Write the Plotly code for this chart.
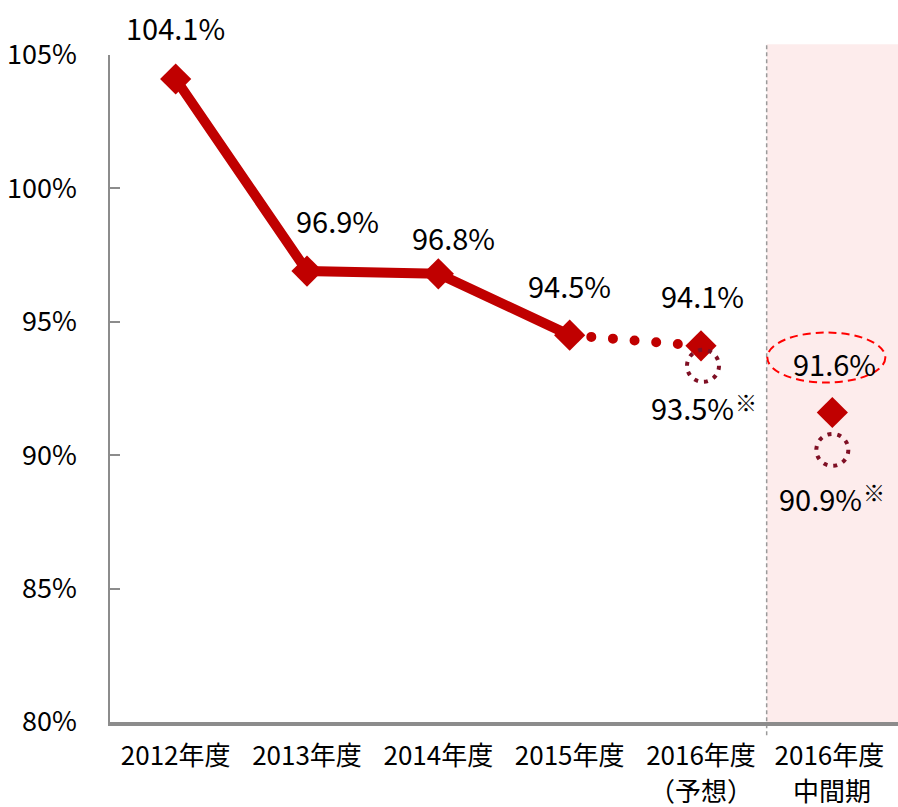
import plotly.graph_objects as go

# ---- data ----
categories = ["2012年度", "2013年度", "2014年度", "2015年度", "2016年度", "2016年度 "]
category_sublabels = ["", "", "", "", "（予想）", "中間期"]
actual_values = [104.1, 96.9, 96.8, 94.5]          # 2012-2015 results
forecast_values = [94.5, 94.1]                     # 2015 -> 2016 forecast
interim_values = [91.6]                            # 2016 interim
adjusted_labels = [93.5, 90.9]                     # ※ adjusted values (forecast, interim)
adjusted_marker_y = [93.35, 90.2]                  # where the dotted circles sit
y_ticks = [80, 85, 90, 95, 100, 105]

RED = "#C00000"
MAROON = "#7F0F24"
FONT = "Noto Sans CJK JP"

fig = go.Figure()

fig.add_trace(go.Scatter(
    x=categories[:4], y=actual_values, mode="lines+markers",
    line=dict(color=RED, width=10),
    marker=dict(symbol="diamond", size=24, color=RED),
    hoverinfo="skip", showlegend=False))

fig.add_trace(go.Scatter(
    x=categories[3:5], y=forecast_values, mode="lines",
    line=dict(color=RED, width=10, dash="0px,21.7px"),
    hoverinfo="skip", showlegend=False))
fig.add_trace(go.Scatter(
    x=categories[4:5], y=forecast_values[1:], mode="markers",
    marker=dict(symbol="diamond", size=24, color=RED),
    hoverinfo="skip", showlegend=False))

fig.add_trace(go.Scatter(
    x=categories[5:6], y=interim_values, mode="markers",
    marker=dict(symbol="diamond", size=24, color=RED),
    hoverinfo="skip", showlegend=False))

shapes = []
shapes.append(dict(type="rect", xref="x", yref="paper", x0=4.5, x1=5.5, y0=0, y1=1.016,
                   fillcolor="#FDECEC", line=dict(width=0), layer="below"))
shapes.append(dict(type="line", xref="x", yref="paper", x0=4.5, x1=4.5, y0=-0.02, y1=1.016,
                   line=dict(color="#9a9a9a", width=1.5, dash="4px,3px"), layer="below"))

for xi, yv in zip([4, 5], adjusted_marker_y):
    off = 2 if xi == 4 else 0
    shapes.append(dict(type="circle", xref="x", yref="y",
                       xsizemode="pixel", ysizemode="pixel",
                       xanchor=xi, yanchor=yv, x0=-16 + off, x1=16 + off,
                       y0=-16, y1=16,
                       line=dict(color=MAROON, width=4, dash="4px,6px"), layer="above"))

shapes.append(dict(type="circle", xref="x", yref="y",
                   xsizemode="pixel", ysizemode="pixel",
                   xanchor=5, yanchor=interim_values[0], x0=-65, x1=53, y0=30, y1=80,
                   line=dict(color="#FF0000", width=2, dash="8px,5px"), layer="above"))

annotations = []
label_points = [(0, actual_values[0], 0, 52), (1, actual_values[1], 30, 51), (2, actual_values[2], 15, 37),
                (3, actual_values[3], 0, 50), (4, forecast_values[1], 1, 51), (5, interim_values[0], 2, 50)]
for xi, v, dx, dy in label_points:
    annotations.append(dict(x=xi, y=v, xref="x", yref="y", text=f"{v:.1f}%", showarrow=False,
                            xshift=dx, yshift=dy, font=dict(size=29, color="black", family=FONT)))

adj_offsets = [(4, -9, -45, 45, -39), (5, -12, -67, 42, -60)]
for (xi, dx, dy, sdx, sdy), v in zip(adj_offsets, adjusted_labels):
    annotations.append(dict(x=xi, y=v, xref="x", yref="y", text=f"{v:.1f}%", showarrow=False,
                            xshift=dx, yshift=dy, font=dict(size=29, color="black", family=FONT)))
    annotations.append(dict(x=xi, y=v, xref="x", yref="y", text="※", showarrow=False,
                            xshift=sdx, yshift=sdy, font=dict(size=22, color="black", family=FONT)))

for xi, sub in enumerate(category_sublabels):
    if sub:
        annotations.append(dict(x=xi, y=0, xref="x", yref="paper", text=sub, showarrow=False,
                                yanchor="middle", yshift=-67, borderpad=0,
                                font=dict(size=26, color="black", family=FONT)))

fig.update_layout(
    width=898, height=807,
    margin=dict(l=110, r=0, t=55, b=85),
    paper_bgcolor="white", plot_bgcolor="rgba(0,0,0,0)",
    shapes=shapes, annotations=annotations,
    font=dict(family=FONT, color="black"),
    xaxis=dict(type="category", categoryorder="array", categoryarray=categories,
               range=[-0.5, 5.5], showgrid=False, zeroline=False, automargin=False,
               showline=True, linecolor="#8c8c8c", linewidth=4, ticks="",
               tickfont=dict(size=26, family=FONT, color="black"), ticklabelstandoff=8),
    yaxis=dict(range=[80, 105], tickvals=y_ticks, ticktext=[f"{t}%" for t in y_ticks],
               showgrid=False, zeroline=False, showline=True, linecolor="#8c8c8c", linewidth=1.5,
               automargin=False,
               ticks="inside", ticklen=10, tickcolor="#8c8c8c", tickwidth=1.5,
               tickfont=dict(size=27, family=FONT, color="black"), ticklabelstandoff=26),
)

post = ("document.body.style.margin='0';document.body.style.overflow='hidden';"
        "document.querySelectorAll('path.js-line').forEach(function(p){"
        "p.style.strokeLinecap='round';});")
fig.write_html("out.html", post_script=post, config={"displayModeBar": False})
